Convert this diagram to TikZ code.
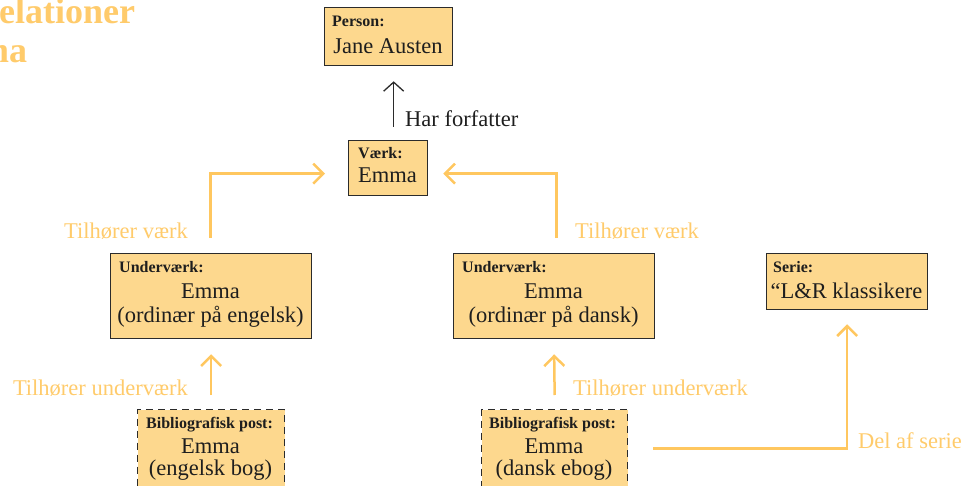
\documentclass[tikz,border=0pt]{standalone}
\usepackage{fontspec}
\setmainfont{Liberation Serif}
\usetikzlibrary{arrows.meta,calc}
\definecolor{boxfill}{HTML}{FDD88E}
\definecolor{orng}{HTML}{FFC75F}
\definecolor{orngtxt}{HTML}{FFCB6B}
\definecolor{edgec}{HTML}{2B2B2B}
\definecolor{txtc}{HTML}{1E1E1E}
\begin{document}
\begin{tikzpicture}[x=1pt,y=-1pt,
 box/.style={draw=edgec, line width=1.3pt, fill=boxfill, anchor=north west, inner sep=0pt},
 bibbox/.style={box, dash pattern=on 7pt off 5pt},
 hdr/.style={font=\fontsize{16}{18}\selectfont\bfseries, text=txtc, anchor=base west, inner sep=0pt},
 body/.style={font=\fontsize{22.5}{26}\selectfont, text=txtc, anchor=base, inner sep=0pt},
 lbl/.style={font=\fontsize{22.5}{26}\selectfont, text=orngtxt, inner sep=0pt},
 klbl/.style={font=\fontsize{22.5}{26}\selectfont, text=txtc, inner sep=0pt},
 ttl/.style={font=\fontsize{36}{40}\selectfont\bfseries, text=orngtxt, anchor=base west, inner sep=0pt},
 oarr/.style={draw=orng, line width=2.5pt, -{Straight Barb[length=10pt,width=20pt,line width=2.5pt]}},
 karr/.style={draw=edgec, line width=1.3pt, -{Straight Barb[length=9pt,width=20pt,line width=1.3pt]}},
]
\useasboundingbox (0,0) rectangle (965,486);

% title (cut off at the left edge)
\begin{scope}
\clip (0,0) rectangle (965,486);
\node[ttl] (title1) at (-1,24) {elationer};
\node[ttl] (title2) at (-21,63) {ma};
\end{scope}

% boxes
\node[box, minimum width=128pt, minimum height=58pt] (person) at (324,7) {};
\node[hdr] (personH) at (332,27) {Person:};
\node[body] (personT) at (388,54) {Jane Austen};

\node[box, minimum width=79pt, minimum height=55pt] (vaerk) at (348,140) {};
\node[hdr] (vaerkH) at (358,159) {Værk:};
\node[body] (vaerkT) at (387.5,183) {Emma};

\node[box, minimum width=201pt, minimum height=85pt] (uvL) at (110,253) {};
\node[hdr] (uvLH) at (119,272) {Underværk:};
\node[body] (uvLT1) at (210.5,298) {Emma};
\node[body] (uvLT2) at (210.5,322) {(ordinær på engelsk)};

\node[box, minimum width=201pt, minimum height=85pt] (uvR) at (453,253) {};
\node[hdr] (uvRH) at (462,272) {Underværk:};
\node[body] (uvRT1) at (553.5,298) {Emma};
\node[body] (uvRT2) at (553.5,322) {(ordinær på dansk)};

\node[box, minimum width=161pt, minimum height=56pt] (serie) at (766,253) {};
\node[hdr] (serieH) at (773,272) {Serie:};
\node[body] (serieT) at (846.5,298) {“L\&R klassikere};

\node[bibbox, minimum width=147pt, minimum height=81pt] (bibL) at (137,409) {};
\node[hdr] (bibLH) at (146,428) {Bibliografisk post:};
\node[body] (bibLT1) at (210.5,453) {Emma};
\node[body] (bibLT2) at (210.5,475) {(engelsk bog)};

\node[bibbox, minimum width=146pt, minimum height=81pt] (bibR) at (481,409) {};
\node[hdr] (bibRH) at (489,428) {Bibliografisk post:};
\node[body] (bibRT1) at (554,453) {Emma};
\node[body] (bibRT2) at (554,475) {(dansk ebog)};

% connectors
\draw[karr] ([xshift=5.5pt,yshift=13pt]vaerk.north) -- ([xshift=5pt,yshift=-15pt]person.south);
\node[klbl, anchor=base west] (harL) at (405,127) {Har forfatter};

\draw[oarr] ([xshift=-0.5pt,yshift=15pt]uvL.north) |- ([xshift=-23pt,yshift=-5.5pt]vaerk.west);
\node[lbl, anchor=base east] (tvL) at (188,238) {Tilhører værk};

\draw[oarr] ([xshift=2.5pt,yshift=15pt]uvR.north) |- ([xshift=15pt,yshift=-5.5pt]vaerk.east);
\node[lbl, anchor=base west] (tvR) at (575,238) {Tilhører værk};

\draw[oarr] ([yshift=14pt]bibL.north) -- ([yshift=-15pt]uvL.south);
\node[lbl, anchor=base east] (tuL) at (188,395) {Tilhører underværk};

\draw[oarr] ([yshift=14pt]bibR.north) -- ([yshift=-15pt]uvR.south);
\node[lbl, anchor=base west] (tuR) at (573,395) {Tilhører underværk};

\draw[oarr] ([xshift=25pt,yshift=1.5pt]bibR.east) -| ([yshift=-14pt]serie.south);
\node[lbl, anchor=base east] (das) at (962,448) {Del af serie};
\end{tikzpicture}
\end{document}
